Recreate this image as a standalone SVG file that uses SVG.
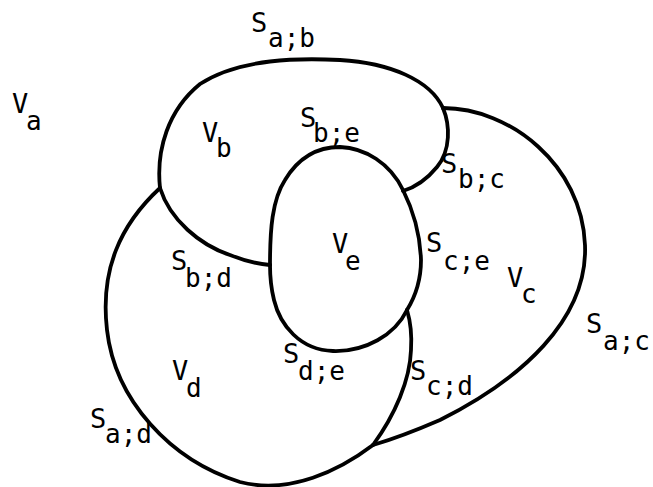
<svg xmlns="http://www.w3.org/2000/svg" width="653" height="487" viewBox="0 0 653 487">
<style>
.b{fill:none;stroke:#000;stroke-width:3.8;stroke-linecap:round;stroke-linejoin:round}
text{font-family:"DejaVu Sans Mono","Liberation Mono",monospace;font-size:27px;fill:#000}
.s{font-size:26px}
</style>
<rect width="653" height="487" fill="#fff"/>
<g id="connectors">
<path id="S_ab" class="b" d="M160,188 C156,150 168,110 200,84 C240,58 300,58 340,60 C390,63 430,80 443,108"/>
<path id="S_bc" class="b" d="M443,108 C450,125 451,150 437,167 C428,178 416,187 403,191"/>
<path id="S_ac" class="b" d="M443,108 C510,108 582,165 585,245 C588,320 520,380 440,420 C410,433 390,440 373,445"/>
<path id="S_cd" class="b" d="M373,445 C395,415 410,380 411,350 C412,335 410,320 407,310"/>
<path id="S_ad" class="b" d="M160,188 C120,225 100,270 107,330 C115,400 170,460 240,482 C290,495 340,470 373,445"/>
<path id="S_bd" class="b" d="M160,188 C170,220 200,245 230,255 C245,261 258,264 270,265"/>
<path id="S_be" class="b" d="M270,265 C270,230 272,200 285,180 C300,155 320,147 340,147 C365,148 390,163 403,190"/>
<path id="S_ce" class="b" d="M403,190 C412,208 420,230 421,260 C421,280 415,297 407,310"/>
<path id="S_de" class="b" d="M407,310 C395,335 365,352 333,351 C300,350 280,325 274,300 C271,288 270,275 270,265"/>
</g>
<g id="V_a"><text><tspan x="12" y="113">V</tspan><tspan class="s" x="26" y="130">a</tspan></text></g>
<g id="V_b"><text><tspan x="202" y="142">V</tspan><tspan class="s" x="216" y="157">b</tspan></text></g>
<g id="V_c"><text><tspan x="507" y="287">V</tspan><tspan class="s" x="521" y="303">c</tspan></text></g>
<g id="V_d"><text><tspan x="172" y="380">V</tspan><tspan class="s" x="186" y="397">d</tspan></text></g>
<g id="V_e"><text><tspan x="332" y="253">V</tspan><tspan class="s" x="345" y="270">e</tspan></text></g>
<g id="labels">
<text><tspan x="251" y="32">S</tspan><tspan class="s" x="268" y="47">a;b</tspan></text>
<text><tspan x="300" y="127">S</tspan><tspan class="s" x="313" y="142">b;e</tspan></text>
<text><tspan x="441" y="173">S</tspan><tspan class="s" x="458" y="188">b;c</tspan></text>
<text><tspan x="426" y="252">S</tspan><tspan class="s" x="443" y="270">c;e</tspan></text>
<text><tspan x="171" y="270">S</tspan><tspan class="s" x="185" y="287">b;d</tspan></text>
<text><tspan x="586" y="333">S</tspan><tspan class="s" x="603" y="350">a;c</tspan></text>
<text><tspan x="283" y="363">S</tspan><tspan class="s" x="298" y="380">d;e</tspan></text>
<text><tspan x="410" y="380">S</tspan><tspan class="s" x="426" y="395">c;d</tspan></text>
<text><tspan x="90" y="428">S</tspan><tspan class="s" x="105" y="443">a;d</tspan></text>
</g>
</svg>
